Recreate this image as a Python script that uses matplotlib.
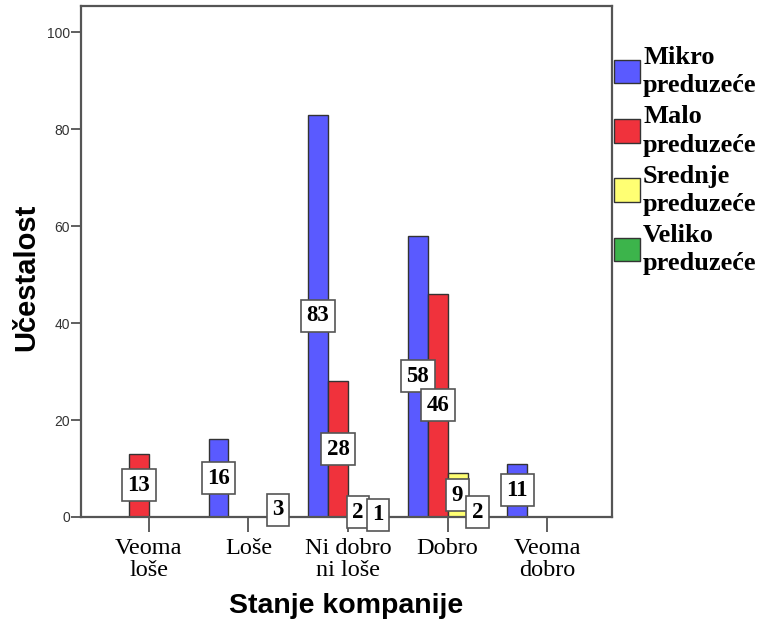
import numpy as np
import matplotlib.pyplot as plt
from matplotlib.patches import Patch

# Podaci: stanje kompanije po veličini preduzeća
kategorije = ['Veoma\nloše', 'Loše', 'Ni dobro\nni loše', 'Dobro', 'Veoma\ndobro']
mikro = [0, 16, 83, 58, 11]
malo = [13, 0, 28, 46, 0]
srednje = [0, 0, 2, 9, 0]
veliko = [0, 3, 1, 2, 0]

serije = [mikro, malo, srednje, veliko]
nazivi = ['Mikro\npreduzeće', 'Malo\npreduzeće', 'Srednje\npreduzeće', 'Veliko\npreduzeće']
boje = ['#5a5aff', '#f0323c', '#ffff73', '#3cb44b']

fig = plt.figure(figsize=(7.66, 6.24), dpi=100)
ax = fig.add_axes([81 / 766, 1 - 517 / 624, (612 - 81) / 766, (517 - 6) / 624])

x = np.arange(len(kategorije))
sirina = 0.2
pomaci = [-0.3, -0.1, 0.1, 0.3]

for vrijednosti, boja, pomak in zip(serije, boje, pomaci):
    ax.bar(x + pomak, vrijednosti, width=sirina, color=boja,
           edgecolor='#333333', linewidth=1, zorder=2)

# Oznake vrijednosti u sredini stubića
for vrijednosti, pomak in zip(serije, pomaci):
    for xi, v in zip(x, vrijednosti):
        if v > 0:
            ax.text(xi + pomak, v / 2, str(v), ha='center', va='center',
                    fontsize=16.5, fontweight='bold', family='Liberation Serif',
                    bbox=dict(boxstyle='square,pad=0.24', fc='white',
                              ec='#555555', lw=1.2),
                    zorder=5, clip_on=False)

ax.set_xlim(-0.68, 4.65)
ax.set_ylim(0, 105.4)
ax.set_yticks([0, 20, 40, 60, 80, 100])
ax.set_xticks(x)
ax.set_xticklabels(kategorije, family='Liberation Serif', fontsize=17.5,
                   linespacing=1.1)
for lbl in ax.get_yticklabels():
    lbl.set_family('Liberation Sans')
    lbl.set_fontsize(10)
    lbl.set_color('#333333')

ax.tick_params(axis='x', length=11, width=1.2, color='#444444', pad=4)
ax.tick_params(axis='y', length=7, width=1.2, color='#444444', pad=1)

for s in ax.spines.values():
    s.set_color('#555555')
    s.set_linewidth(1.6)

ax.set_ylabel('Učestalost', family='Liberation Sans', fontweight='bold',
              fontsize=21)
ax.yaxis.set_label_coords(-0.077, 0.47)
ax.set_xlabel('Stanje kompanije', family='Liberation Sans', fontweight='bold',
              fontsize=20.5, labelpad=8)

rucke = [Patch(facecolor=b, edgecolor='#333333', linewidth=1) for b in boje]
leg = fig.legend(rucke, nazivi, loc='upper left',
                 bbox_to_anchor=(614 / 766, 1 - 46 / 624),
                 frameon=False, borderpad=0, borderaxespad=0, handlelength=1.0,
                 handleheight=1.0, handletextpad=0.1, labelspacing=0.3,
                 prop={'family': 'Liberation Serif', 'weight': 'bold', 'size': 19})
for t in leg.get_texts():
    t.set_linespacing(1.3)

fig.savefig('out.png', dpi=100)
